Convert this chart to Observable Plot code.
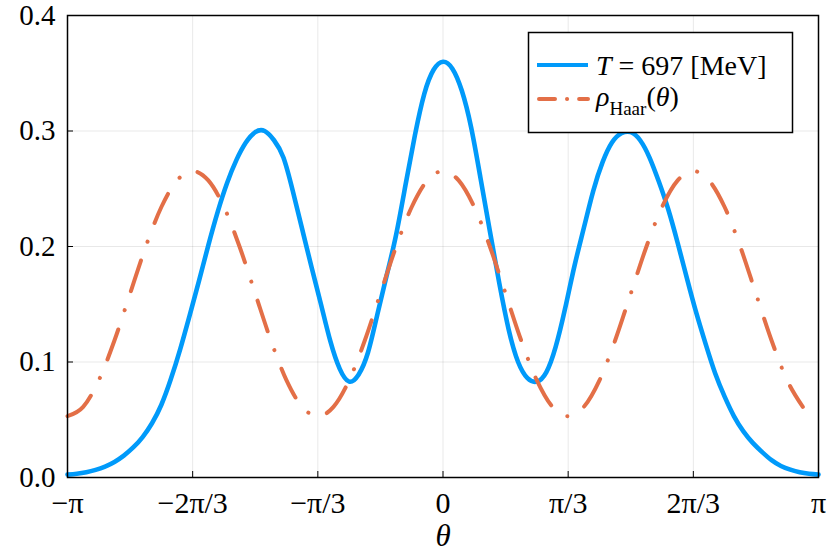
<!DOCTYPE html>
<html><head><meta charset="utf-8">
<script src="https://cdn.jsdelivr.net/npm/d3@7"></script>
<script src="https://cdn.jsdelivr.net/npm/@observablehq/plot@0.6"></script>
<style>body{margin:0;background:#fff;} #chart{width:834px;height:556px;}</style>
</head><body><div id="chart"></div>
<script>
// theta in units of pi
const blueTheta = [-1.000,-0.975,-0.950,-0.925,-0.900,-0.875,-0.850,-0.825,-0.800,-0.775,
  -0.750,-0.725,-0.700,-0.675,-0.650,-0.625,-0.600,-0.575,-0.550,-0.525,
  -0.500,-0.475,-0.450,-0.425,-0.400,-0.375,-0.350,-0.325,-0.300,-0.275,
  -0.250,-0.225,-0.200,-0.175,-0.150,-0.125,-0.100,-0.075,-0.050,-0.025,
  0.000,0.025,0.050,0.075,0.100,0.125,0.150,0.175,0.200,0.225,
  0.250,0.275,0.300,0.325,0.350,0.375,0.400,0.425,0.450,0.475,
  0.500,0.525,0.550,0.575,0.600,0.625,0.650,0.675,0.700,0.725,
  0.750,0.775,0.800,0.825,0.850,0.875,0.900,0.925,0.950,0.975,1.000];
const blueRho = [0.0025,0.0032,0.0045,0.0066,0.0095,0.0135,0.019,0.026,0.035,0.047,
  0.063,0.085,0.111,0.140,0.170,0.201,0.230,0.255,0.275,0.290,
  0.299,0.300,0.292,0.277,0.248,0.215,0.182,0.150,0.118,0.094,
  0.083,0.089,0.108,0.141,0.175,0.210,0.253,0.296,0.332,0.353,
  0.360,0.354,0.335,0.303,0.259,0.213,0.168,0.128,0.100,0.086,
  0.083,0.091,0.113,0.146,0.183,0.216,0.248,0.273,0.290,0.298,
  0.299,0.292,0.277,0.256,0.232,0.203,0.172,0.142,0.115,0.090,
  0.070,0.053,0.040,0.030,0.022,0.015,0.0100,0.0068,0.0045,0.0032,0.0025];
const haarTheta = [-1,-0.9583,-0.9167,-0.875,-0.8333,-0.7917,-0.75,-0.7083,-0.6667,-0.625,
  -0.5833,-0.5417,-0.5,-0.4583,-0.4167,-0.375,-0.3333,-0.2917,-0.25,-0.2083,
  -0.1667,-0.125,-0.0833,-0.0417,0,0.0417,0.0833,0.125,0.1667,0.2083,
  0.25,0.2917,0.3333,0.375,0.4167,0.4583,0.5,0.5417,0.5833,0.625,
  0.6667,0.7083,0.75,0.7917,0.8333,0.875,0.9167,0.9583];
const haarRho = [0.0531,0.0611,0.0841,0.1186,0.1592,0.1998,0.2342,0.2572,0.2653,0.2572,
  0.2342,0.1998,0.1592,0.1186,0.0841,0.0611,0.0531,0.0611,0.0841,0.1186,
  0.1592,0.1998,0.2342,0.2572,0.2653,0.2572,0.2342,0.1998,0.1592,0.1186,
  0.0841,0.0611,0.0531,0.0611,0.0841,0.1186,0.1592,0.1998,0.2342,0.2572,
  0.2653,0.2572,0.2342,0.1998,0.1592,0.1186,0.0841,0.0611];
const xTicks = [-1, -2/3, -1/3, 0, 1/3, 2/3, 1];
const xTickLabels = ["−π", "−2π/3", "−π/3", "0", "π/3", "2π/3", "π"];
const yTicks = [0, 0.1, 0.2, 0.3, 0.4];
const colors = ["#009AFA", "#E36F47"];

const blue = blueTheta.map((t, i) => ({theta: t, rho: blueRho[i]}));
const haar = haarTheta.map((t, i) => ({theta: t, rho: haarRho[i]}));

const font = "'Liberation Serif', 'DejaVu Serif', serif";
const plot = Plot.plot({
  width: 834, height: 556,
  marginLeft: 67, marginRight: 16, marginTop: 15, marginBottom: 79,
  style: {fontFamily: font, fontSize: "29px", background: "#fff", color: "#000", overflow: "visible"},
  x: {domain: [-1, 1]},
  y: {domain: [0, 0.4]},
  marks: [
    Plot.gridX(xTicks, {stroke: "#000", strokeOpacity: 0.09, strokeWidth: 1}),
    Plot.gridY(yTicks, {stroke: "#000", strokeOpacity: 0.09, strokeWidth: 1}),
    Plot.line(blue, {x: "theta", y: "rho", stroke: colors[0], strokeWidth: 4.6, curve: "natural"}),
    Plot.line(haar, {x: "theta", y: "rho", stroke: colors[1], strokeWidth: 4, strokeDasharray: "32,20,0.1,20", strokeLinecap: "round", curve: "monotone-x"}),
    Plot.axisX(xTicks, {tickSize: -6, tickPadding: 20, tickFormat: d => xTickLabels[xTicks.indexOf(d)], label: null, fontSize: 30}),
    Plot.axisY(yTicks, {tickSize: -6, tickPadding: 18, tickFormat: d => d.toFixed(1), label: null, fontSize: 29}),
    Plot.frame({stroke: "#000", strokeWidth: 1.5}),
    Plot.text(["θ"], {text: d => d, frameAnchor: "bottom", dy: 68, fontStyle: "italic", fontSize: 31})
  ]
});

// legend
const svg = d3.select(plot);
const g = svg.append("g").attr("font-family", font).attr("font-size", 28).attr("fill", "#000").attr("text-anchor", "start");
g.append("rect").attr("x", 528.5).attr("y", 32.5).attr("width", 264).attr("height", 100)
  .attr("fill", "#fff").attr("stroke", "#000").attr("stroke-width", 1.5);
g.append("line").attr("x1", 537).attr("x2", 588).attr("y1", 65).attr("y2", 65)
  .attr("stroke", colors[0]).attr("stroke-width", 4);
g.append("line").attr("x1", 539).attr("x2", 588).attr("y1", 99).attr("y2", 99)
  .attr("stroke", colors[1]).attr("stroke-width", 4).attr("stroke-dasharray", "16,12,0.1,12").attr("stroke-linecap", "round");
const t1 = g.append("text").attr("x", 596).attr("y", 75);
t1.append("tspan").attr("font-style", "italic").text("T");
t1.append("tspan").text(" = 697 [MeV]");
const t2 = g.append("text").attr("x", 596).attr("y", 106);
t2.append("tspan").attr("font-style", "italic").text("ρ");
t2.append("tspan").attr("font-size", 19).attr("dy", 9).text("Haar");
t2.append("tspan").attr("dy", -9).text("(");
t2.append("tspan").attr("font-style", "italic").text("θ");
t2.append("tspan").text(")");

document.getElementById("chart").appendChild(plot);
</script>
</body></html>
